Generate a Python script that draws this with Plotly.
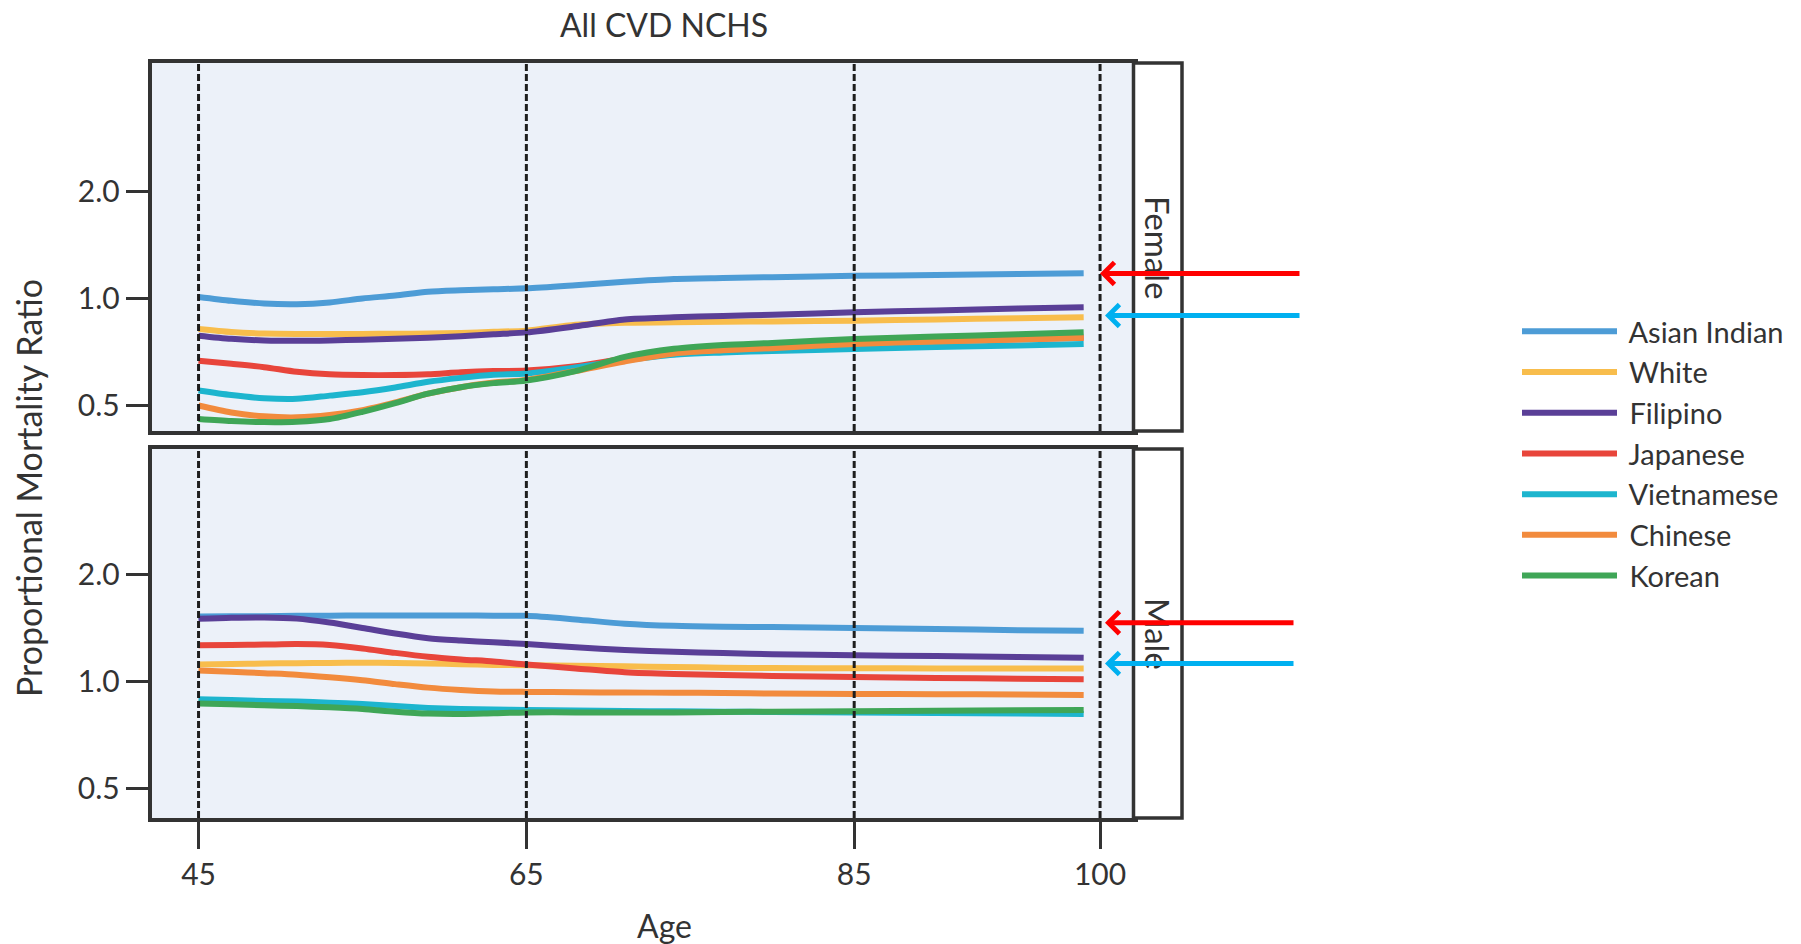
import plotly.graph_objects as go

# ---------------- data ----------------
ages = [45, 47, 49, 51, 53, 55, 57, 59, 61, 63, 65, 68, 71, 74, 77, 80, 85, 90, 95, 99]
groups = ["Asian Indian", "White", "Filipino", "Japanese", "Vietnamese", "Chinese", "Korean"]
colors = ["#4D9CD6", "#F8BD4C", "#5A3F97", "#E8453B", "#1DB5CE", "#F28B3D", "#3FA657"]

female_asian_indian = [1.01, 0.985, 0.968, 0.964, 0.975, 1.0, 1.02, 1.045, 1.055, 1.062, 1.068, 1.09, 1.115, 1.135, 1.142, 1.148, 1.158, 1.165, 1.172, 1.178]
female_white = [0.821, 0.805, 0.797, 0.795, 0.795, 0.795, 0.796, 0.797, 0.8, 0.806, 0.812, 0.843, 0.855, 0.857, 0.86, 0.862, 0.866, 0.873, 0.88, 0.885]
female_filipino = [0.786, 0.77, 0.762, 0.76, 0.762, 0.766, 0.77, 0.776, 0.783, 0.793, 0.803, 0.835, 0.873, 0.885, 0.893, 0.9, 0.915, 0.925, 0.937, 0.945]
female_japanese = [0.668, 0.655, 0.641, 0.622, 0.612, 0.609, 0.609, 0.612, 0.62, 0.625, 0.627, 0.645, 0.678, 0.705, 0.72, 0.73, 0.748, 0.758, 0.768, 0.776]
female_vietnamese = [0.551, 0.535, 0.524, 0.522, 0.533, 0.545, 0.562, 0.583, 0.598, 0.61, 0.615, 0.64, 0.67, 0.695, 0.705, 0.712, 0.721, 0.73, 0.738, 0.745]
female_chinese = [0.5, 0.478, 0.466, 0.463, 0.47, 0.485, 0.51, 0.54, 0.563, 0.58, 0.59, 0.625, 0.665, 0.7, 0.715, 0.725, 0.745, 0.757, 0.767, 0.776]
female_korean = [0.458, 0.452, 0.449, 0.45, 0.458, 0.48, 0.508, 0.54, 0.563, 0.578, 0.588, 0.625, 0.685, 0.722, 0.74, 0.75, 0.769, 0.782, 0.793, 0.803]

male_asian_indian = [1.518, 1.52, 1.522, 1.525, 1.527, 1.528, 1.528, 1.528, 1.528, 1.527, 1.525, 1.49, 1.45, 1.43, 1.422, 1.418, 1.409, 1.4, 1.39, 1.384]
male_white = [1.113, 1.116, 1.12, 1.122, 1.124, 1.125, 1.124, 1.12, 1.115, 1.11, 1.108, 1.104, 1.1, 1.095, 1.09, 1.088, 1.086, 1.085, 1.085, 1.085]
male_filipino = [1.496, 1.506, 1.509, 1.498, 1.46, 1.41, 1.36, 1.32, 1.3, 1.285, 1.271, 1.245, 1.222, 1.208, 1.198, 1.19, 1.182, 1.175, 1.168, 1.162]
male_japanese = [1.26, 1.263, 1.266, 1.27, 1.262, 1.235, 1.2, 1.17, 1.15, 1.135, 1.113, 1.085, 1.058, 1.046, 1.04, 1.033, 1.026, 1.02, 1.015, 1.011]
male_vietnamese = [0.889, 0.884, 0.879, 0.875, 0.869, 0.861, 0.85, 0.84, 0.834, 0.831, 0.829, 0.826, 0.823, 0.822, 0.82, 0.818, 0.815, 0.813, 0.81, 0.808]
male_chinese = [1.071, 1.062, 1.052, 1.042, 1.025, 1.005, 0.98, 0.958, 0.944, 0.935, 0.932, 0.93, 0.928, 0.927, 0.925, 0.922, 0.92, 0.918, 0.916, 0.914]
male_korean = [0.865, 0.86, 0.855, 0.85, 0.843, 0.834, 0.82, 0.81, 0.808, 0.812, 0.816, 0.816, 0.816, 0.816, 0.818, 0.82, 0.822, 0.825, 0.827, 0.829]

female_series = [female_asian_indian, female_white, female_filipino, female_japanese,
                 female_vietnamese, female_chinese, female_korean]
male_series = [male_asian_indian, male_white, male_filipino, male_japanese,
               male_vietnamese, male_chinese, male_korean]

x_ticks = [45, 65, 85, 100]
y_ticks = [0.5, 1.0, 2.0]
y_ticklabels = ["0.5", "1.0", "2.0"]
panel_labels = ["Female", "Male"]

# ---------------- geometry ----------------
W, H = 1801, 944
FONT = "Lato"
TXT = "#333333"
EDGE = "#333333"
px = lambda v: v / W
py = lambda v: 1 - v / H

x_dom = [px(151.5), px(1133.5)]
top_dom = [py(431), py(63)]
bot_dom = [py(818), py(449)]

fig = go.Figure()

for name, col, fv, mv in zip(groups, colors, female_series, male_series):
    fig.add_trace(go.Scatter(x=ages, y=fv, mode="lines", name="\u00a0" + name, legendgroup=name,
                             line=dict(color=col, width=6, shape="spline", smoothing=0.8),
                             xaxis="x2", yaxis="y2", showlegend=True))
    fig.add_trace(go.Scatter(x=ages, y=mv, mode="lines", name=name, legendgroup=name,
                             line=dict(color=col, width=6, shape="spline", smoothing=0.8),
                             xaxis="x", yaxis="y", showlegend=False))

axis_common = dict(showline=True, mirror=True, linecolor=EDGE, linewidth=3.5,
                   showgrid=False, zeroline=False, automargin=False)
tickfont = dict(size=30, color=TXT, family=FONT)

fig.update_layout(
    width=W, height=H,
    margin=dict(l=0, r=0, t=0, b=0),
    template="none",
    paper_bgcolor="white",
    plot_bgcolor="#ECF1F9",
    font=dict(family=FONT, color=TXT, size=28),
    xaxis=dict(domain=x_dom, anchor="y", range=[42.13, 102.04],
               tickvals=x_ticks, ticktext=[str(v) for v in x_ticks],
               ticks="outside", ticklen=27, tickwidth=3, tickcolor=EDGE,
               tickfont=tickfont, **axis_common),
    xaxis2=dict(domain=x_dom, anchor="y2", range=[42.13, 102.04],
                showticklabels=False, ticks="", matches="x", **axis_common),
    yaxis=dict(domain=bot_dom, anchor="x", type="log", range=[-0.3854, 0.6527],
               tickvals=y_ticks, ticktext=y_ticklabels,
               ticks="outside", ticklen=22, tickwidth=3, tickcolor=EDGE,
               tickfont=tickfont, **axis_common),
    yaxis2=dict(domain=top_dom, anchor="x2", type="log", range=[-0.3728, 0.6626],
                tickvals=y_ticks, ticktext=y_ticklabels,
                ticks="outside", ticklen=22, tickwidth=3, tickcolor=EDGE,
                tickfont=tickfont, **axis_common),
    legend=dict(x=px(1517), y=py(306), xanchor="left", yanchor="top",
                font=dict(size=29, color=TXT, family=FONT),
                bgcolor="rgba(0,0,0,0)", itemwidth=95, tracegroupgap=0),
    showlegend=True,
)

shapes = []
# dashed reference lines
for xr, yr in (("x", "y domain"), ("x2", "y2 domain")):
    for v in x_ticks:
        shapes.append(dict(type="line", xref=xr, yref=yr, x0=v, x1=v, y0=0, y1=1,
                           line=dict(color="#1e1e1e", width=3, dash="7px,3px"), layer="above"))
# facet strips
for dom in (top_dom, bot_dom):
    shapes.append(dict(type="rect", xref="paper", yref="paper",
                       x0=px(1133.5), x1=px(1182), y0=dom[0], y1=dom[1],
                       line=dict(color=EDGE, width=3.5), fillcolor="white", layer="above"))
fig.update_layout(shapes=shapes)

def label(text, xx, yy, size, angle=0):
    return dict(text=text, x=px(xx), y=py(yy), xref="paper", yref="paper",
                xanchor="center", yanchor="middle", showarrow=False, textangle=angle,
                font=dict(size=size, color=TXT, family=FONT))

annotations = [
    label("All CVD NCHS", 664, 24, 32),
    label("Proportional Mortality Ratio", 29, 488, 34, -90),
    label("Age", 664, 925, 32),
    label(panel_labels[0], 1158, 247, 33, 90),
    label(panel_labels[1], 1158, 634, 33, 90),
]
# highlight arrows
arrows = [(1100, 273.4, 1301, "#FF0000"), (1105, 315.5, 1301, "#00B0F0"),
          (1105, 622.7, 1295, "#FF0000"), (1105, 663.5, 1295, "#00B0F0")]
for xt, yt, xtail, c in arrows:
    annotations.append(dict(text="", x=px(xt), y=py(yt), xref="paper", yref="paper",
                            showarrow=True, ax=xtail - xt, ay=0, axref="pixel", ayref="pixel",
                            arrowhead=4, arrowsize=0.85, arrowwidth=5, arrowcolor=c,
                            standoff=0, startstandoff=0))
fig.update_layout(annotations=annotations)

fig.write_html("out.html", config={"displayModeBar": False},
               post_script="document.body.style.margin='0px';")
